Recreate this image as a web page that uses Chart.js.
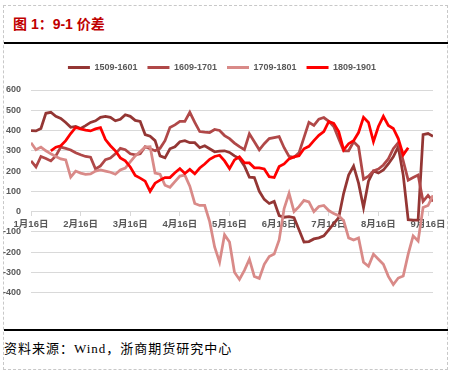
<!DOCTYPE html>
<html>
<head>
<meta charset="utf-8">
<script src="https://cdn.jsdelivr.net/npm/chart.js@4.4.1/dist/chart.umd.min.js"></script>
<style>
html,body{margin:0;padding:0;background:#fff;width:453px;height:373px;overflow:hidden;position:relative}
#frame{position:absolute;left:3px;top:5px;width:445px;height:365px;border:1px dashed #C8C8C8;box-sizing:border-box}
#title{position:absolute;left:13px;top:15px;font:bold 14px "Liberation Sans","Noto Sans CJK SC",sans-serif;color:#C00000;line-height:18px;white-space:nowrap}
.rule{position:absolute;left:4px;width:444px;height:2px;background:#000}
#src{position:absolute;left:4px;top:340px;font:13px "Liberation Serif","Noto Sans CJK SC",serif;color:#000;line-height:18px;white-space:nowrap;letter-spacing:1px}
#c{position:absolute;left:0;top:53px}
</style>
</head>
<body>
<div id="frame"></div>
<div id="title">图 1：9-1 价差</div>
<div class="rule" style="top:42px"></div>
<canvas id="c" width="453" height="255"></canvas>
<div class="rule" style="top:329px"></div>
<div id="src">资料来源：Wind，浙商期货研究中心</div>
<script>
const monthLabels = ['1月16日','2月16日','3月16日','4月16日','5月16日','6月16日','7月16日','8月16日','9月16日'];
const seriesNames = ['1509-1601','1609-1701','1709-1801','1809-1901'];

const s1509 = [400,398,410,485,490,470,460,440,416,420,
  410,424,440,448,465,470,465,448,455,478,
  470,450,445,380,372,350,275,265,310,320,
  345,350,340,340,315,325,310,295,298,300,
  292,275,262,225,170,168,100,60,40,50,
  -20,-28,-25,-30,-90,-150,-148,-135,-130,-120,
  -90,-60,-30,90,180,225,140,20,150,200,
  190,205,235,270,320,180,-40,-42,-42,380,
  385,372];

const s1609 = [250,220,272,262,250,275,318,312,304,290,
  280,272,268,210,225,256,264,285,312,305,
  285,280,285,320,310,300,312,350,415,428,
  445,445,490,440,395,392,390,405,400,375,
  360,338,320,305,384,345,305,335,360,365,
  370,315,272,268,290,365,440,425,456,464,
  445,420,360,300,300,344,320,160,175,200,
  210,230,260,310,340,250,155,168,180,50,
  80,50];

const s1709 = [340,305,318,300,285,272,260,255,170,200,
  190,184,186,200,205,200,194,184,205,215,
  245,275,296,318,320,190,184,130,120,148,
  175,180,125,40,30,30,-50,-175,-250,-115,
  -150,-300,-335,-290,-235,-320,-330,-260,-222,-210,
  -140,15,90,0,24,55,48,0,25,30,
  5,-10,-20,-45,-130,-140,-130,-250,-270,-210,
  -235,-260,-320,-360,-328,-318,-210,-120,-145,20,
  30,80];

const s1809 = [null,null,null,null,300,318,325,350,385,415,
  408,402,398,408,414,355,325,300,265,250,
  220,178,165,150,100,140,155,168,168,192,
  212,188,208,186,215,235,258,272,278,250,
  212,255,270,240,240,216,216,210,172,168,
  222,235,260,270,275,310,322,350,376,395,
  445,435,395,305,335,350,390,465,440,345,
  420,470,425,410,360,280,315];

const colors = ['#943634','#B04848','#D98A88','#FF0000'];
const allSeries = [s1509, s1609, s1709, s1809];
const fontFam = '"Liberation Sans","Noto Sans CJK SC",sans-serif';

const datasets = allSeries.map((arr, k) => ({
  label: seriesNames[k],
  data: arr.map((v, i) => ({x: i, y: v})),
  borderColor: colors[k],
  backgroundColor: colors[k],
  borderWidth: 2.75,
  pointRadius: 0,
  tension: 0,
  order: 3 - k
}));

const legendTweak = {
  id: 'legendTweak',
  beforeInit(chart) {
    const lg = chart.legend;
    const f = lg.fit;
    lg.fit = function () { f.call(this); this.height = 37; };
  },
  afterLayout(chart) {
    const lg = chart.legend;
    lg.left += 11;
    lg.width -= 11;
  }
};

new Chart(document.getElementById('c'), {
  type: 'line',
  data: { datasets },
  plugins: [legendTweak],
  options: {
    responsive: false,
    animation: false,
    layout: { padding: { left: 0, right: 20, top: 0, bottom: 10 } },
    plugins: {
      tooltip: { enabled: false },
      legend: {
        position: 'top',
        labels: {
          boxWidth: 22, boxHeight: 3, padding: 10, color: '#595959',
          font: { family: fontFam, size: 9, weight: 'bold' },
          sort: (a, b) => a.datasetIndex - b.datasetIndex,
          generateLabels: (chart) => {
            const items = Chart.defaults.plugins.legend.labels.generateLabels(chart);
            items.forEach(it => { it.lineWidth = 0; });
            return items;
          }
        }
      }
    },
    scales: {
      x: {
        type: 'linear', min: 0, max: 81, position: { y: 0 },
        grid: { drawOnChartArea: false, drawTicks: true, tickLength: 4, color: '#D9D9D9' },
        border: { display: true, color: '#D9D9D9' },
        ticks: {
          stepSize: 10, autoSkip: false, maxRotation: 0, includeBounds: false, padding: 3,
          color: '#595959', font: { family: fontFam, size: 9.5, weight: 'bold' },
          callback: (v) => { const l = monthLabels[v / 10]; return l === undefined ? '' : l; }
        }
      },
      y: {
        min: -400, max: 600,
        grid: { color: '#D9D9D9', drawTicks: false },
        border: { display: false },
        ticks: { stepSize: 100, padding: 10, color: '#595959', font: { family: fontFam, size: 9, weight: 'bold' } },
        afterFit: (s) => { s.width = 31; }
      }
    }
  }
});
</script>
</body>
</html>
